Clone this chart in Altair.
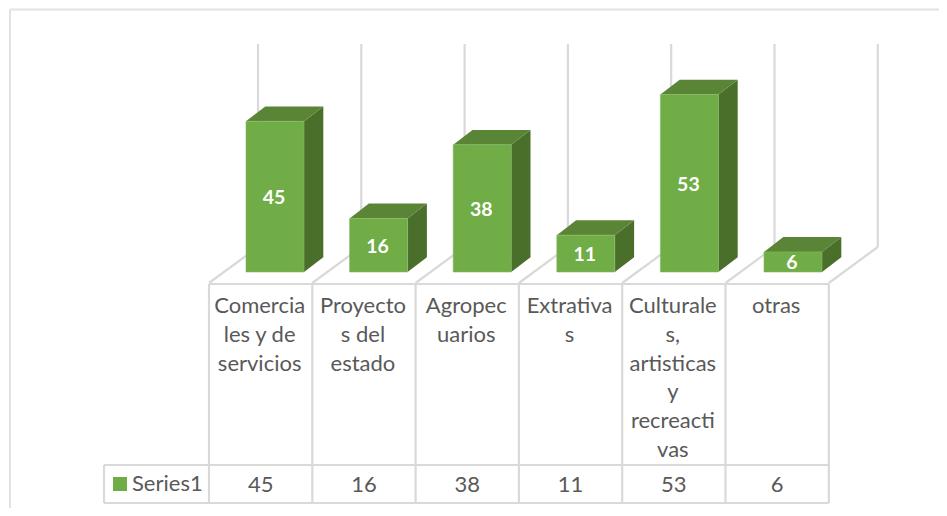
import altair as alt
import pandas as pd

categories = ["Comercia\nles y de\nservicios", "Proyecto\ns del\nestado", "Agropec\nuarios",
              "Extrativa\ns", "Culturale\ns,\nartisticas\ny\nrecreacti\nvas", "otras"]
values = [45, 16, 38, 11, 53, 6]
series_name = "Series1"

# layout (pixels of the picture, and value units per pixel)
PX = 3.35
BASE = 272
def v(py):
    return (BASE - py) / PX

BAR0, BAR_STEP, BAR_W = 246, 103.6, 58
DX, DY = 19.3, 14.8 / PX
TAB0, TAB_STEP = 209, 103.3
GRID0, GRID_STEP = 258, 103.3
GRID_TOP, WALL_BOTTOM, TAB_TOP, TAB_MID, TAB_BOT = 44, 247, 284, 465, 503
LEGEND_L = 104
FONT = "Lato"
GREY = "#d9d9d9"
TXT = "#595959"

n = len(values)
front, side, top, labels, cells = [], [], [], [], []
for i, (c, val) in enumerate(zip(categories, values)):
    x0 = BAR0 + i * BAR_STEP
    x1 = x0 + BAR_W
    front.append(dict(x=x0, x2=x1, y=val, y2=0))
    side += [dict(b=i, x=x1, y=val, y2=0), dict(b=i, x=x1 + DX, y=val + DY, y2=DY)]
    top += [dict(b=i, x=x0, y=val, y2=val),
            dict(b=i, x=x0 + DX, y=val + DY, y2=val),
            dict(b=i, x=x1, y=val + DY, y2=val),
            dict(b=i, x=x1 + DX, y=val + DY, y2=val + DY)]
    labels.append(dict(x=(x0 + x1) / 2 - 1, y=val / 2, t=str(val)))
    cx = TAB0 + (i + 0.5) * TAB_STEP
    cells.append(dict(x=cx, y=v(484.5), t=str(val)))

cat_df = pd.DataFrame([dict(x=TAB0 + (i + 0.5) * TAB_STEP - 1, y=v(TAB_TOP + 12), t=c)
                       for i, c in enumerate(categories)])

lines = []
for i in range(n + 1):
    gx = GRID0 + i * GRID_STEP
    tx = TAB0 + i * TAB_STEP
    lines.append(dict(x=gx, x2=gx, y=v(GRID_TOP), y2=v(WALL_BOTTOM)))
    lines.append(dict(x=tx, x2=tx, y=v(TAB_TOP), y2=v(TAB_BOT)))
lines.append(dict(x=TAB0, x2=TAB0 + n * TAB_STEP, y=v(TAB_TOP), y2=v(TAB_TOP)))
lines.append(dict(x=LEGEND_L, x2=TAB0 + n * TAB_STEP, y=v(TAB_MID), y2=v(TAB_MID)))
lines.append(dict(x=LEGEND_L, x2=TAB0 + n * TAB_STEP, y=v(TAB_BOT), y2=v(TAB_BOT)))
lines.append(dict(x=LEGEND_L, x2=LEGEND_L, y=v(TAB_MID), y2=v(TAB_BOT)))

diag = []
for i in range(n + 1):
    diag += [dict(b=i, x=TAB0 + i * TAB_STEP, y=v(TAB_TOP - 1)),
             dict(b=i, x=GRID0 + i * GRID_STEP, y=v(WALL_BOTTOM))]

frame = [dict(x=10, x2=939, y=v(9.5), y2=v(9.5)), dict(x=10, x2=10, y=v(9.5), y2=v(508))]

xs = alt.Scale(domain=[8, 939], nice=False, zero=False)
ys = alt.Scale(domain=[v(508), v(8)], nice=False, zero=False)
X = alt.X("x:Q", scale=xs, axis=None)
Y = alt.Y("y:Q", scale=ys, axis=None)
X2, Y2 = alt.X2("x2:Q"), alt.Y2("y2:Q")

frame_l = alt.Chart(pd.DataFrame(frame)).mark_rule(color="#e2e2e2", strokeWidth=2).encode(X, Y, x2=X2, y2=Y2)
grid_l = alt.Chart(pd.DataFrame(lines)).mark_rule(color=GREY, strokeWidth=2.2).encode(X, Y, x2=X2, y2=Y2)
diag_l = alt.Chart(pd.DataFrame(diag)).mark_line(color=GREY, strokeWidth=2.2).encode(X, Y, detail="b:N")
side_l = alt.Chart(pd.DataFrame(side)).mark_area(color="#4a6f2b").encode(X, Y, y2=Y2, detail="b:N")
top_l = alt.Chart(pd.DataFrame(top)).mark_area(color="#5a8436").encode(X, Y, y2=Y2, detail="b:N")
front_l = alt.Chart(pd.DataFrame(front)).mark_bar(color="#70ad47", stroke="#86bb63", strokeWidth=0.6).encode(X, Y, x2=X2, y2=Y2)
label_l = alt.Chart(pd.DataFrame(labels)).mark_text(font=FONT, fontSize=19.5, fontWeight="bold", color="white", dy=1.5).encode(X, Y, text="t:N")
cat_l = alt.Chart(cat_df).mark_text(font=FONT, fontSize=22, color=TXT, baseline="top", lineBreak="\n", lineHeight=28.8).encode(X, Y, text="t:N")
cell_l = alt.Chart(pd.DataFrame(cells)).mark_text(font=FONT, fontSize=22, color=TXT).encode(X, Y, text="t:N")
key_l = alt.Chart(pd.DataFrame([dict(x=120, y=v(484))])).mark_point(shape="square", filled=True, size=196, color="#70ad47", opacity=1).encode(X, Y)
name_l = alt.Chart(pd.DataFrame([dict(x=132, y=v(484), t=series_name)])).mark_text(font=FONT, fontSize=22, color=TXT, align="left").encode(X, Y, text="t:N")

chart = alt.layer(frame_l, diag_l, grid_l, side_l, top_l, front_l, label_l, cat_l, cell_l, key_l, name_l).properties(
    width=931, height=500, padding=0, autosize=alt.AutoSizeParams(type="none"), background="white"
).configure_view(stroke=None)

chart.save("out.html", embed_options={"renderer": "svg", "actions": False})
